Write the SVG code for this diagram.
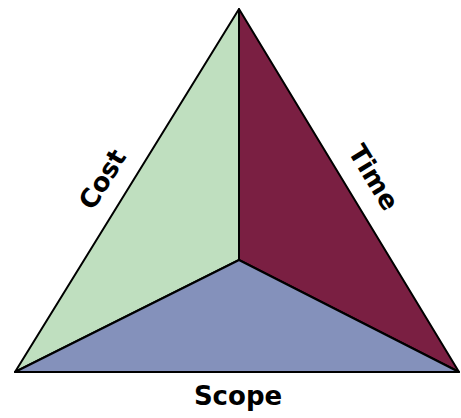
<svg xmlns="http://www.w3.org/2000/svg" width="461" height="418" viewBox="0 0 461 418">
<style>
.face{stroke:#000;stroke-width:2;stroke-linejoin:round}
.lbl{font-family:"DejaVu Sans","Liberation Sans",sans-serif;font-weight:bold;font-size:26px;fill:#000;text-anchor:middle}
</style>
<rect width="461" height="418" fill="#fff"/>
<g id="cost">
<polygon class="face" fill="#bfdfbf" points="239,9 239,260 15,372"/>
<text class="lbl" transform="translate(110,184) rotate(-58.3)">Cost</text>
</g>
<g id="time">
<polygon class="face" fill="#7a1f42" points="239,9 459,372 239,260"/>
<text class="lbl" transform="translate(366,182) rotate(58.6)">Time</text>
</g>
<g id="scope">
<polygon class="face" fill="#8491bb" points="15,372 239,260 459,372"/>
<text class="lbl" x="238" y="405">Scope</text>
</g>
<g id="connectors"></g>
</svg>
